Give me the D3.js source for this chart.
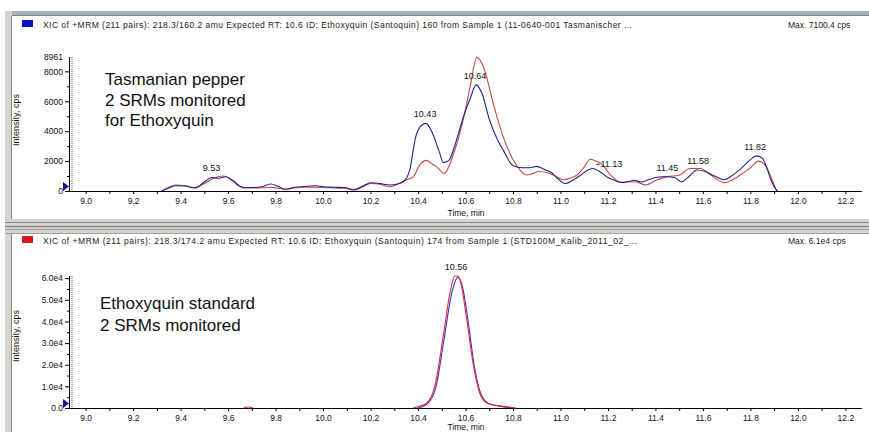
<!DOCTYPE html>
<html>
<head>
<meta charset="utf-8">
<script src="https://cdn.jsdelivr.net/npm/d3@7"></script>
<style>
  body { margin: 0; background: #fff; }
  svg { display: block; }
  text { font-family: "Liberation Sans", Arial, sans-serif; }
</style>
</head>
<body>
<svg id="chart" width="869" height="432"></svg>
<script>
// ---- data ----
const timeTicks = d3.range(90, 123).map(d => d / 10); // 9.0 .. 12.2 every 0.1

// top panel: Tasmanian pepper, 218.3/160.2 (blue) and 218.3/174.2 (red)
const pepperBlue = [
  [9.32, 0], [9.35, 200], [9.38, 350], [9.42, 330], [9.46, 200], [9.50, 600], [9.53, 900],
  [9.56, 850], [9.59, 950], [9.62, 700], [9.66, 250], [9.70, 230], [9.74, 280], [9.78, 470],
  [9.81, 320], [9.84, 120], [9.88, 250], [9.92, 300], [9.97, 350], [10.00, 280], [10.05, 250],
  [10.09, 230], [10.13, 100], [10.17, 350], [10.20, 550], [10.24, 500], [10.28, 400],
  [10.31, 450], [10.34, 650], [10.365, 1400], [10.39, 3600], [10.415, 4400], [10.433, 4520],
  [10.46, 3900], [10.49, 2600], [10.507, 1900], [10.53, 2050], [10.56, 3300], [10.59, 4900],
  [10.62, 6200], [10.645, 7100], [10.67, 6500], [10.70, 4800], [10.73, 3600], [10.76, 2700],
  [10.80, 1700], [10.84, 1550], [10.87, 1550], [10.90, 1650], [10.93, 1450], [10.96, 1250],
  [10.99, 800], [11.02, 500], [11.05, 700], [11.08, 1000], [11.11, 1350], [11.135, 1500],
  [11.17, 1250], [11.20, 900], [11.23, 700], [11.26, 560], [11.29, 640], [11.31, 720],
  [11.34, 600], [11.37, 750], [11.40, 900], [11.43, 950], [11.45, 950], [11.48, 900],
  [11.51, 620], [11.54, 950], [11.575, 1400], [11.61, 1300], [11.65, 1000], [11.69, 750],
  [11.72, 1000], [11.76, 1500], [11.80, 2100], [11.825, 2350], [11.85, 2200], [11.87, 1500],
  [11.89, 600], [11.912, 0]
];
const pepperRed = [
  [9.32, 0], [9.35, 250], [9.38, 400], [9.42, 350], [9.46, 220], [9.50, 500], [9.54, 850],
  [9.58, 1000], [9.61, 800], [9.64, 400], [9.67, 200], [9.71, 200], [9.75, 220], [9.78, 250],
  [9.81, 180], [9.84, 100], [9.88, 200], [9.92, 250], [9.97, 250], [10.00, 230], [10.05, 200],
  [10.09, 180], [10.13, 60], [10.17, 300], [10.20, 500], [10.24, 450], [10.28, 280],
  [10.31, 420], [10.34, 650], [10.36, 800], [10.38, 950], [10.41, 1800], [10.435, 2050],
  [10.46, 1800], [10.48, 1600], [10.51, 1180], [10.55, 2500], [10.59, 4750], [10.62, 7000],
  [10.648, 8950], [10.68, 8100], [10.716, 5900], [10.758, 3650], [10.80, 2100], [10.83, 1400],
  [10.857, 1070], [10.88, 1150], [10.91, 1300], [10.95, 1200], [10.99, 900], [11.01, 750],
  [11.04, 850], [11.07, 1070], [11.10, 1600], [11.125, 2120], [11.15, 2000], [11.17, 1850],
  [11.21, 1100], [11.25, 580], [11.29, 620], [11.32, 600], [11.36, 400], [11.40, 700],
  [11.45, 960], [11.50, 1050], [11.545, 1500], [11.59, 1500], [11.63, 1100], [11.69, 560],
  [11.73, 800], [11.76, 1100], [11.80, 1550], [11.835, 2000], [11.865, 1650], [11.89, 800],
  [11.905, 200], [11.915, 0]
];
const pepperPeaks = [
  [9.53, 940], [10.43, 4520], [10.64, 7100], [11.13, 1520], [11.45, 950], [11.58, 1400], [11.82, 2350]
];

// bottom panel: Ethoxyquin standard
const stdBlue = [
  [10.40, 0], [10.44, 2000], [10.475, 9500], [10.51, 32000], [10.54, 52000], [10.568, 60500],
  [10.585, 57000], [10.61, 41000], [10.636, 20000], [10.665, 6500], [10.695, 2200],
  [10.73, 1000], [10.77, 400], [10.81, 0]
];
const stdRed = [
  [10.38, 0], [10.40, 600], [10.436, 2200], [10.47, 9800], [10.506, 32900], [10.534, 52900],
  [10.555, 61000], [10.567, 61000], [10.58, 58000], [10.604, 42000], [10.632, 20600],
  [10.66, 6800], [10.69, 2300], [10.72, 1400], [10.76, 800], [10.81, 0]
];
const stdRedBlip = [[9.665, 0], [9.685, 450], [9.705, 0]];
const stdPeaks = [[10.56, 61000]];

const svg = d3.select("#chart");

// window frame bits
svg.append("rect").attr("x", 5).attr("y", 11).attr("width", 864).attr("height", 5).attr("fill", "#a7b2bb");
svg.append("rect").attr("x", 5).attr("y", 15).attr("width", 864).attr("height", 1).attr("fill", "#76828c");
svg.append("rect").attr("x", 5).attr("y", 11).attr("width", 7).attr("height", 421).attr("fill", "#d6d3ce");
svg.append("rect").attr("x", 11).attr("y", 16).attr("width", 1).attr("height", 416).attr("fill", "#8a8a8a");
svg.append("rect").attr("x", 5).attr("y", 219).attr("width", 864).attr("height", 15).attr("fill", "#d6d3ce");
svg.append("rect").attr("x", 5).attr("y", 222).attr("width", 864).attr("height", 1).attr("fill", "#8a8a8a");
svg.append("rect").attr("x", 5).attr("y", 226).attr("width", 864).attr("height", 1).attr("fill", "#7a7a7a");
svg.append("rect").attr("x", 5).attr("y", 229).attr("width", 864).attr("height", 1).attr("fill", "#9a9a9a");
svg.append("rect").attr("x", 5).attr("y", 233).attr("width", 864).attr("height", 1).attr("fill", "#a0a0a0");

function drawPanel(p) {
  const g = svg.append("g");
  const x = d3.scaleLinear().domain([8.93, 12.27]).range([69, 862]);
  const y = d3.scaleLinear().domain([0, p.yMax]).range([p.y0, p.yTop]);

  // header
  g.append("rect").attr("x", 22).attr("y", p.head - 8).attr("width", 11).attr("height", 7).attr("fill", p.swatch);
  g.append("text").attr("x", 43).attr("y", p.head).attr("font-size", 8.5).attr("fill", "#222")
    .attr("textLength", p.titleLen).attr("lengthAdjust", "spacing").text(p.title);
  g.append("text").attr("x", 788).attr("y", p.head).attr("font-size", 8.5).attr("fill", "#222").text(p.max);

  // dotted marker line next to the y axis
  g.append("line").attr("x1", 72).attr("x2", 72).attr("y1", p.yTop).attr("y2", p.y0)
    .attr("stroke", "#555").attr("stroke-dasharray", "1,1");

  // x axis
  const xa = g.append("g").attr("transform", `translate(0,${p.y0})`)
    .call(d3.axisBottom(x).tickValues(timeTicks).tickSize(3).tickPadding(4)
      .tickFormat(d => Math.round(d * 10) % 2 === 0 ? d3.format(".1f")(d) : ""));
  xa.select(".domain").attr("d", `M69,0.5H862`).attr("stroke", "#000");
  xa.selectAll("text").attr("font-size", 8.5).attr("fill", "#111").attr("font-family", "Liberation Sans, Arial, sans-serif");
  g.append("text").attr("x", 466).attr("y", p.y0 + p.timeDy).attr("text-anchor", "middle")
    .attr("font-size", 8.5).attr("fill", "#111").text("Time, min");

  // y axis
  const ya = g.append("g").attr("transform", "translate(69,0)")
    .call(d3.axisLeft(y).tickValues(p.yTicks).tickSize(4).tickPadding(2).tickFormat(p.yFmt));
  ya.select(".domain").attr("d", `M0.5,${p.y0}V${p.yTop}`).attr("stroke", "#000");
  ya.selectAll("text").attr("font-size", 8.5).attr("fill", "#111").attr("font-family", "Liberation Sans, Arial, sans-serif");
  g.append("g").attr("transform", "translate(69,0)")
    .call(d3.axisLeft(y).tickValues(p.yMinor).tickSize(2).tickFormat(""))
    .select(".domain").remove();
  if (p.topLabel) {
    g.append("text").attr("x", 63).attr("y", y(p.yMax) + 3).attr("text-anchor", "end")
      .attr("font-size", 8.5).attr("fill", "#111").text(p.topLabel);
  }
  g.append("text").attr("transform", `translate(19,${p.yLabel}) rotate(-90)`).attr("text-anchor", "middle")
    .attr("font-size", 9).attr("fill", "#111").text("Intensity, cps");
  g.append("path").attr("d", `M63,${p.y0 - 9}L69,${p.y0 - 4.5}L63,${p.y0}Z`).attr("fill", "#10108a");

  // traces
  const line = d3.line().x(d => x(d[0])).y(d => y(d[1])).curve(d3.curveMonotoneX);
  p.traces.forEach(t => {
    g.append("path").datum(t.data).attr("d", line).attr("fill", "none")
      .attr("stroke", t.color).attr("stroke-width", 1.1);
  });

  // peak labels (11.13 sits to the right of its peak with a short leader)
  p.peaks.forEach(d => {
    const side = d[0] === 11.13;
    const lx = x(d[0]) + (side ? 20 : 0);
    const ly = side ? y(d[1]) - 1 : y(d[1]) - 6;
    if (side) {
      g.append("line").attr("x1", x(d[0]) + 5).attr("x2", x(d[0]) + 9)
        .attr("y1", ly - 3).attr("y2", ly - 3).attr("stroke", "#111").attr("stroke-width", 0.8);
    }
    g.append("text").attr("x", lx).attr("y", ly)
      .attr("text-anchor", "middle").attr("font-size", 9).attr("fill", "#111").text(d3.format(".2f")(d[0]));
  });

  // annotation block
  p.note.forEach((s, i) => {
    g.append("text").attr("x", p.noteX).attr("y", p.noteY + i * p.noteStep)
      .attr("font-family", "Lato, sans-serif").attr("font-size", 17).attr("fill", "#111").text(s);
  });
  return x;
}

drawPanel({
  head: 28, swatch: "#0b12c4",
  title: "XIC of +MRM (211 pairs): 218.3/160.2 amu Expected RT: 10.6 ID: Ethoxyquin (Santoquin) 160 from Sample 1 (11-0640-001 Tasmanischer ...",
  titleLen: 589, max: "Max. 7100.4 cps",
  y0: 191, yTop: 57, yMax: 8961, yTicks: [0, 2000, 4000, 6000, 8000], yMinor: [1000, 3000, 5000, 7000],
  yFmt: d3.format("d"), topLabel: "8961", yLabel: 120, timeDy: 25,
  traces: [{ data: pepperRed, color: "#c9473f" }, { data: pepperBlue, color: "#23238c" }],
  peaks: pepperPeaks,
  note: ["Tasmanian pepper", "2 SRMs monitored", "for Ethoxyquin"], noteX: 105, noteY: 85, noteStep: 20.5
});

drawPanel({
  head: 244, swatch: "#e0141e",
  title: "XIC of +MRM (211 pairs): 218.3/174.2 amu Expected RT: 10.6 ID: Ethoxyquin (Santoquin) 174 from Sample 1 (STD100M_Kalib_2011_02_...",
  titleLen: 594, max: "Max. 6.1e4 cps",
  y0: 408, yTop: 276, yMax: 61000, yTicks: [0, 10000, 20000, 30000, 40000, 50000, 60000],
  yMinor: [5000, 15000, 25000, 35000, 45000, 55000],
  yFmt: d => d === 0 ? "0.0" : (d / 1e4).toFixed(1) + "e4", topLabel: null, yLabel: 336, timeDy: 22,
  traces: [{ data: stdBlue, color: "#3434c8" }, { data: stdRed, color: "#e3283a" }, { data: stdRedBlip, color: "#e3283a" }],
  peaks: stdPeaks,
  note: ["Ethoxyquin standard", "2 SRMs monitored"], noteX: 100, noteY: 309, noteStep: 22
});
</script>
</body>
</html>
